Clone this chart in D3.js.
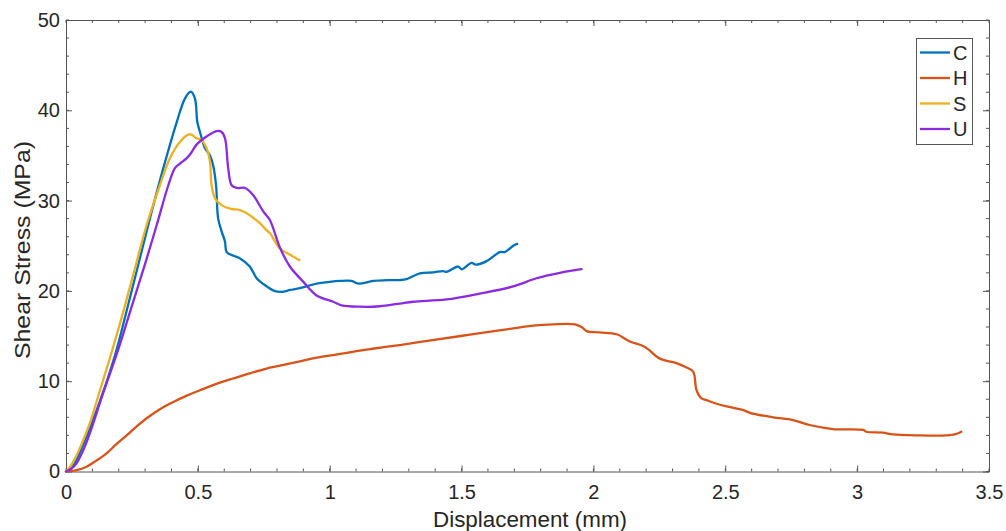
<!DOCTYPE html>
<html>
<head>
<meta charset="utf-8">
<script src="https://cdn.jsdelivr.net/npm/d3@7"></script>
<style>
  html, body { margin: 0; padding: 0; background: #fff; }
  svg { display: block; font-family: "Liberation Sans", Arial, sans-serif; }
</style>
</head>
<body>
<svg id="chart" width="1006" height="531"></svg>
<script>
// Shear stress vs displacement curves, [displacement (mm), stress (MPa)]
const seriesNames = ["C", "H", "S", "U"];
const seriesColors = ["#0072BD", "#D95319", "#EDB120", "#8A2BE2"];

const curveC = [
  [0,0],[0.02,0.4],[0.04,1.3],[0.06,2.6],[0.08,4.0],[0.1,5.5],[0.13,7.9],[0.155,10.0],
  [0.192,13.5],[0.23,17.8],[0.274,22.9],[0.318,28.0],[0.369,33.6],[0.42,38.7],[0.451,41.3],
  [0.473,42.06],[0.489,41.3],[0.498,38.7],[0.508,37.6],[0.527,35.8],[0.546,35.0],[0.558,33.9],
  [0.569,31.7],[0.577,28.0],[0.59,26.6],[0.603,25.45],[0.609,24.3],[0.635,23.9],[0.66,23.6],
  [0.697,22.7],[0.723,21.4],[0.761,20.5],[0.79,20.0],[0.818,19.9],[0.85,20.1],[0.887,20.3],
  [0.95,20.8],[1.0,21.0],[1.039,21.1],[1.083,21.1],[1.108,20.8],[1.165,21.1],[1.22,21.2],
  [1.266,21.2],[1.291,21.3],[1.342,21.95],[1.392,22.05],[1.43,22.2],[1.443,22.1],[1.487,22.7],
  [1.5,22.4],[1.538,23.1],[1.554,22.9],[1.595,23.3],[1.645,24.3],[1.664,24.3],[1.696,25.0],
  [1.711,25.2]
];

const curveH = [
  [0,0],[0.04,0.15],[0.078,0.53],[0.115,1.2],[0.154,2.0],[0.19,3.0],[0.23,4.0],[0.268,5.0],
  [0.306,5.9],[0.356,6.9],[0.407,7.7],[0.458,8.4],[0.508,9.0],[0.57,9.7],[0.634,10.3],
  [0.7,10.9],[0.761,11.4],[0.825,11.8],[0.887,12.2],[0.95,12.6],[1.013,12.9],[1.076,13.2],
  [1.14,13.5],[1.2,13.75],[1.266,14.0],[1.39,14.55],[1.519,15.1],[1.65,15.65],[1.771,16.15],
  [1.847,16.3],[1.93,16.3],[1.955,16.0],[1.974,15.55],[2.024,15.4],[2.088,15.2],[2.138,14.4],
  [2.195,13.8],[2.252,12.5],[2.315,12.0],[2.347,11.6],[2.378,11.05],[2.391,9.0],[2.41,8.1],
  [2.429,7.9],[2.467,7.5],[2.505,7.2],[2.568,6.8],[2.593,6.5],[2.681,6.0],[2.757,5.7],
  [2.82,5.15],[2.909,4.7],[3.023,4.6],[3.035,4.4],[3.098,4.3],[3.136,4.1],[3.237,4.0],
  [3.338,4.0],[3.37,4.1],[3.395,4.4]
];

const curveS = [
  [0,0],[0.015,0.5],[0.03,1.2],[0.053,2.6],[0.07,3.8],[0.091,5.4],[0.129,9.0],[0.179,13.8],
  [0.222,18.2],[0.265,22.9],[0.306,27.3],[0.356,31.7],[0.394,34.7],[0.432,36.5],[0.464,37.3],
  [0.476,37.3],[0.495,36.9],[0.514,36.7],[0.533,35.8],[0.546,34.3],[0.552,31.7],[0.565,30.25],
  [0.59,29.5],[0.622,29.1],[0.66,28.95],[0.685,28.6],[0.71,28.1],[0.735,27.5],[0.761,26.7],
  [0.773,26.4],[0.811,24.7],[0.85,24.0],[0.885,23.4]
];

const curveU = [
  [0,0],[0.02,0.3],[0.04,0.9],[0.066,2.4],[0.085,3.8],[0.103,5.3],[0.141,8.7],[0.198,13.5],
  [0.249,18.25],[0.299,22.9],[0.344,27.3],[0.388,31.7],[0.413,33.6],[0.432,34.1],[0.458,34.7],
  [0.475,35.3],[0.495,36.2],[0.533,37.1],[0.571,37.7],[0.59,37.6],[0.603,36.9],[0.615,33.6],
  [0.628,31.7],[0.647,31.4],[0.679,31.4],[0.71,30.6],[0.748,28.8],[0.773,27.85],[0.811,24.8],
  [0.849,22.7],[0.9,21.0],[0.95,19.5],[1.013,18.8],[1.045,18.4],[1.115,18.25],[1.19,18.3],
  [1.266,18.6],[1.317,18.8],[1.443,19.05],[1.569,19.7],[1.696,20.5],[1.784,21.4],[1.873,22.0],
  [1.955,22.4]
];

const seriesData = [curveC, curveH, curveS, curveU];

const xTicks = [0, 0.5, 1, 1.5, 2, 2.5, 3, 3.5];
const yTicks = [0, 10, 20, 30, 40, 50];
const xLabel = "Displacement (mm)";
const yLabel = "Shear Stress (MPa)";

// Layout
const plotLeft = 66, plotRight = 989, plotTop = 20, plotBottom = 471.5;
const svg = d3.select("#chart");

const x = d3.scaleLinear().domain([0, 3.5]).range([plotLeft, plotRight]);
const y = d3.scaleLinear().domain([0, 50]).range([plotBottom, plotTop]);

const axisColor = "#555";
const textColor = "#262626";

const xMinor = d3.range(0, 3.5001, 0.1).map(v => +v.toFixed(2));
const yMinor = d3.range(0, 50.001, 2);

// Minor ticks (inward, on all four sides)
const gMinor = svg.append("g").attr("stroke", axisColor).attr("stroke-width", 1);
xMinor.forEach(v => {
  gMinor.append("line").attr("x1", x(v)).attr("x2", x(v)).attr("y1", plotBottom).attr("y2", plotBottom - 3);
  gMinor.append("line").attr("x1", x(v)).attr("x2", x(v)).attr("y1", plotTop).attr("y2", plotTop + 3);
});
yMinor.forEach(v => {
  gMinor.append("line").attr("y1", y(v)).attr("y2", y(v)).attr("x1", plotLeft).attr("x2", plotLeft + 3);
  gMinor.append("line").attr("y1", y(v)).attr("y2", y(v)).attr("x1", plotRight).attr("x2", plotRight - 3);
});

// Axes via d3 axis generators, ticks pointing inward
const fmt = d => String(d);
svg.append("g")
  .attr("transform", `translate(0,${plotBottom})`)
  .call(d3.axisBottom(x).tickValues(xTicks).tickFormat(fmt).tickSizeInner(-6).tickSizeOuter(0).tickPadding(13))
  .call(g => {
    g.select(".domain").attr("stroke", axisColor);
    g.selectAll(".tick line").attr("stroke", axisColor);
    g.selectAll(".tick text").attr("fill", textColor).attr("font-size", 20)
      .attr("font-family", "Liberation Sans, Arial, sans-serif");
  });

svg.append("g")
  .attr("transform", `translate(${plotLeft},0)`)
  .call(d3.axisLeft(y).tickValues(yTicks).tickFormat(fmt).tickSizeInner(-6).tickSizeOuter(0).tickPadding(6))
  .call(g => {
    g.select(".domain").attr("stroke", axisColor);
    g.selectAll(".tick line").attr("stroke", axisColor);
    g.selectAll(".tick text").attr("fill", textColor).attr("font-size", 20)
      .attr("font-family", "Liberation Sans, Arial, sans-serif");
  });

svg.append("g")
  .attr("transform", `translate(0,${plotTop})`)
  .call(d3.axisTop(x).tickValues(xTicks).tickFormat("").tickSizeInner(-6).tickSizeOuter(0))
  .call(g => { g.select(".domain").attr("stroke", axisColor); g.selectAll(".tick line").attr("stroke", axisColor); });

svg.append("g")
  .attr("transform", `translate(${plotRight},0)`)
  .call(d3.axisRight(y).tickValues(yTicks).tickFormat("").tickSizeInner(-6).tickSizeOuter(0))
  .call(g => { g.select(".domain").attr("stroke", axisColor); g.selectAll(".tick line").attr("stroke", axisColor); });

// Axis titles
svg.append("text")
  .attr("x", 530).attr("y", 527)
  .attr("text-anchor", "middle").attr("font-size", 22).attr("fill", textColor)
  .attr("textLength", 194).attr("lengthAdjust", "spacingAndGlyphs")
  .text(xLabel);

svg.append("text")
  .attr("transform", `translate(30,250) rotate(-90)`)
  .attr("text-anchor", "middle").attr("font-size", 22).attr("fill", textColor)
  .attr("textLength", 218).attr("lengthAdjust", "spacingAndGlyphs")
  .text(yLabel);

// Curves
const line = d3.line()
  .x(d => x(d[0])).y(d => y(d[1]))
  .curve(d3.curveCatmullRom.alpha(0.5));

svg.append("g").selectAll("path")
  .data(seriesData)
  .join("path")
  .attr("d", line)
  .attr("fill", "none")
  .attr("stroke", (d, i) => seriesColors[i])
  .attr("stroke-width", 2.3)
  .attr("stroke-linejoin", "round")
  .attr("stroke-linecap", "round");

// Legend
const lg = svg.append("g");
lg.append("rect")
  .attr("x", 916.5).attr("y", 38.5).attr("width", 56).attr("height", 106)
  .attr("fill", "#fff").attr("stroke", axisColor).attr("stroke-width", 1);
seriesNames.forEach((name, i) => {
  const yy = 52.5 + i * 25.5;
  lg.append("line").attr("x1", 920).attr("x2", 950).attr("y1", yy).attr("y2", yy)
    .attr("stroke", seriesColors[i]).attr("stroke-width", 2.3);
  lg.append("text").attr("x", 953).attr("y", yy + 7).attr("font-size", 20)
    .attr("fill", textColor).text(name);
});
</script>
</body>
</html>
